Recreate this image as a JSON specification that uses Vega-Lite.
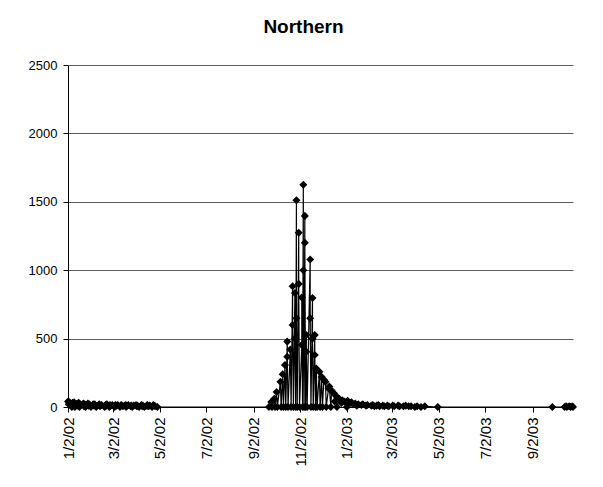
{
  "$schema": "https://vega.github.io/schema/vega-lite/v6.json",
  "width": 505,
  "height": 342,
  "autosize": {"type": "none"},
  "padding": {"left": 68, "top": 65, "right": 30, "bottom": 80},
  "background": "white",
  "config": {"view": {"stroke": null}},
  "title": {"text": "Northern", "fontSize": 19, "fontWeight": "bold", "font": "Liberation Sans", "color": "black", "anchor": "middle", "dx": -17, "offset": 22},
  "data": {"values": [
    {"d":"2002/01/02","v":40},{"d":"2002/01/03","v":20},{"d":"2002/01/04","v":35},{"d":"2002/01/07","v":0},{"d":"2002/01/08","v":30},{"d":"2002/01/09","v":15},{"d":"2002/01/10","v":35},{"d":"2002/01/11","v":0},{"d":"2002/01/14","v":25},{"d":"2002/01/15","v":10},{"d":"2002/01/16","v":30},{"d":"2002/01/17","v":0},{"d":"2002/01/18","v":20},{"d":"2002/01/22","v":25},{"d":"2002/01/23","v":5},{"d":"2002/01/24","v":20},{"d":"2002/01/25","v":0},{"d":"2002/01/28","v":25},{"d":"2002/01/29","v":10},{"d":"2002/01/30","v":20},
    {"d":"2002/02/01","v":0},{"d":"2002/02/04","v":20},{"d":"2002/02/05","v":10},{"d":"2002/02/06","v":20},{"d":"2002/02/08","v":0},{"d":"2002/02/11","v":15},{"d":"2002/02/12","v":20},{"d":"2002/02/13","v":5},{"d":"2002/02/15","v":15},{"d":"2002/02/19","v":0},{"d":"2002/02/20","v":15},{"d":"2002/02/21","v":10},{"d":"2002/02/22","v":20},{"d":"2002/02/25","v":0},{"d":"2002/02/26","v":15},{"d":"2002/02/27","v":10},
    {"d":"2002/03/01","v":15},{"d":"2002/03/04","v":0},{"d":"2002/03/05","v":15},{"d":"2002/03/06","v":10},{"d":"2002/03/08","v":15},{"d":"2002/03/11","v":0},{"d":"2002/03/12","v":10},{"d":"2002/03/13","v":15},{"d":"2002/03/15","v":5},{"d":"2002/03/18","v":15},{"d":"2002/03/19","v":0},{"d":"2002/03/20","v":10},{"d":"2002/03/22","v":15},{"d":"2002/03/25","v":5},{"d":"2002/03/26","v":10},{"d":"2002/03/27","v":0},{"d":"2002/03/29","v":10},
    {"d":"2002/04/01","v":15},{"d":"2002/04/02","v":5},{"d":"2002/04/03","v":10},{"d":"2002/04/05","v":0},{"d":"2002/04/08","v":15},{"d":"2002/04/09","v":5},{"d":"2002/04/10","v":10},{"d":"2002/04/12","v":0},{"d":"2002/04/15","v":10},{"d":"2002/04/16","v":15},{"d":"2002/04/17","v":5},{"d":"2002/04/19","v":10},{"d":"2002/04/22","v":0},{"d":"2002/04/23","v":10},{"d":"2002/04/24","v":15},{"d":"2002/04/26","v":5},{"d":"2002/04/29","v":0},
    {"d":"2002/09/22","v":0},{"d":"2002/09/25","v":37},{"d":"2002/09/26","v":0},{"d":"2002/09/29","v":60},{"d":"2002/09/30","v":0},{"d":"2002/10/02","v":110},{"d":"2002/10/03","v":0},{"d":"2002/10/07","v":184},{"d":"2002/10/08","v":0},{"d":"2002/10/10","v":240},{"d":"2002/10/11","v":0},{"d":"2002/10/13","v":307},{"d":"2002/10/14","v":0},
    {"d":"2002/10/16","v":478},{"d":"2002/10/16","v":368},{"d":"2002/10/17","v":0},{"d":"2002/10/20","v":420},{"d":"2002/10/21","v":0},{"d":"2002/10/23","v":882},{"d":"2002/10/23","v":600},{"d":"2002/10/24","v":0},{"d":"2002/10/26","v":833},{"d":"2002/10/26","v":500},{"d":"2002/10/27","v":0},
    {"d":"2002/10/28","v":1512},{"d":"2002/10/28","v":649},{"d":"2002/10/29","v":0},{"d":"2002/10/31","v":1274},{"d":"2002/10/31","v":900},{"d":"2002/11/01","v":0},{"d":"2002/11/04","v":453},{"d":"2002/11/04","v":800},{"d":"2002/11/05","v":0},
    {"d":"2002/11/06","v":1625},{"d":"2002/11/06","v":1000},{"d":"2002/11/07","v":0},{"d":"2002/11/08","v":1397},{"d":"2002/11/08","v":1201},{"d":"2002/11/09","v":0},{"d":"2002/11/10","v":527},{"d":"2002/11/10","v":404},{"d":"2002/11/11","v":0},
    {"d":"2002/11/15","v":1078},{"d":"2002/11/15","v":649},{"d":"2002/11/16","v":0},{"d":"2002/11/18","v":797},{"d":"2002/11/18","v":500},{"d":"2002/11/19","v":0},{"d":"2002/11/21","v":527},{"d":"2002/11/21","v":380},{"d":"2002/11/22","v":0},
    {"d":"2002/11/23","v":282},{"d":"2002/11/24","v":0},{"d":"2002/11/27","v":257},{"d":"2002/11/28","v":0},{"d":"2002/11/30","v":220},{"d":"2002/12/01","v":0},{"d":"2002/12/03","v":200},{"d":"2002/12/05","v":184},{"d":"2002/12/06","v":0},{"d":"2002/12/09","v":135},
    {"d":"2002/12/10","v":150},{"d":"2002/12/12","v":0},{"d":"2002/12/13","v":120},{"d":"2002/12/16","v":100},{"d":"2002/12/17","v":40},{"d":"2002/12/19","v":80},{"d":"2002/12/20","v":0},{"d":"2002/12/23","v":60},{"d":"2002/12/26","v":30},{"d":"2002/12/27","v":50},{"d":"2002/12/30","v":40},
    {"d":"2003/01/02","v":0},{"d":"2003/01/03","v":45},{"d":"2003/01/06","v":30},{"d":"2003/01/08","v":35},{"d":"2003/01/10","v":20},{"d":"2003/01/13","v":25},{"d":"2003/01/15","v":10},{"d":"2003/01/17","v":20},{"d":"2003/01/21","v":15},{"d":"2003/01/23","v":20},{"d":"2003/01/27","v":10},{"d":"2003/01/29","v":15},
    {"d":"2003/02/03","v":10},{"d":"2003/02/05","v":15},{"d":"2003/02/07","v":5},{"d":"2003/02/10","v":10},{"d":"2003/02/12","v":15},{"d":"2003/02/14","v":5},{"d":"2003/02/18","v":10},{"d":"2003/02/20","v":5},{"d":"2003/02/24","v":10},{"d":"2003/02/26","v":5},
    {"d":"2003/03/03","v":10},{"d":"2003/03/05","v":5},{"d":"2003/03/10","v":10},{"d":"2003/03/12","v":5},{"d":"2003/03/17","v":5},{"d":"2003/03/20","v":10},{"d":"2003/03/24","v":5},{"d":"2003/03/27","v":5},
    {"d":"2003/04/01","v":0},{"d":"2003/04/04","v":5},{"d":"2003/04/09","v":0},{"d":"2003/04/14","v":5},{"d":"2003/05/01","v":0},{"d":"2003/09/28","v":0},{"d":"2003/10/14","v":0},{"d":"2003/10/16","v":5},{"d":"2003/10/17","v":0},{"d":"2003/10/20","v":5},{"d":"2003/10/22","v":0},{"d":"2003/10/24","v":5},{"d":"2003/10/25","v":0}
  ]},
  "transform": [{"window": [{"op": "row_number", "as": "i"}]}],
  "encoding": {
    "x": {
      "field": "d", "type": "temporal", "title": null,
      "scale": {"domain": [{"year": 2002, "month": 1, "date": 2}, {"year": 2003, "month": 10, "date": 25}], "nice": false},
      "axis": {
        "values": [
          {"year": 2002, "month": 1, "date": 2}, {"year": 2002, "month": 3, "date": 2}, {"year": 2002, "month": 5, "date": 2},
          {"year": 2002, "month": 7, "date": 2}, {"year": 2002, "month": 9, "date": 2}, {"year": 2002, "month": 11, "date": 2},
          {"year": 2003, "month": 1, "date": 2}, {"year": 2003, "month": 3, "date": 2}, {"year": 2003, "month": 5, "date": 2},
          {"year": 2003, "month": 7, "date": 2}, {"year": 2003, "month": 9, "date": 2}
        ],
        "format": "%-m/%-d/%y", "labelAngle": -90, "labelFontSize": 15, "labelFont": "Liberation Sans", "labelColor": "black",
        "domainColor": "black", "tickColor": "black", "tickSize": 5, "labelPadding": 5, "grid": false, "labelOverlap": false
      }
    },
    "y": {
      "field": "v", "type": "quantitative", "title": null,
      "scale": {"domain": [0, 2500], "nice": false},
      "axis": {
        "values": [0, 500, 1000, 1500, 2000, 2500], "format": "d", "labelFontSize": 13, "labelFont": "Liberation Sans", "labelColor": "black",
        "domainColor": "black", "tickColor": "black", "tickSize": 5, "labelPadding": 6,
        "grid": true, "gridColor": "#333333", "gridWidth": 0.8
      }
    }
  },
  "layer": [
    {"mark": {"type": "line", "color": "black", "strokeWidth": 1.2}, "encoding": {"order": {"field": "i", "type": "quantitative"}}},
    {"mark": {"type": "point", "shape": "diamond", "filled": true, "color": "black", "size": 65, "opacity": 1}}
  ]
}
